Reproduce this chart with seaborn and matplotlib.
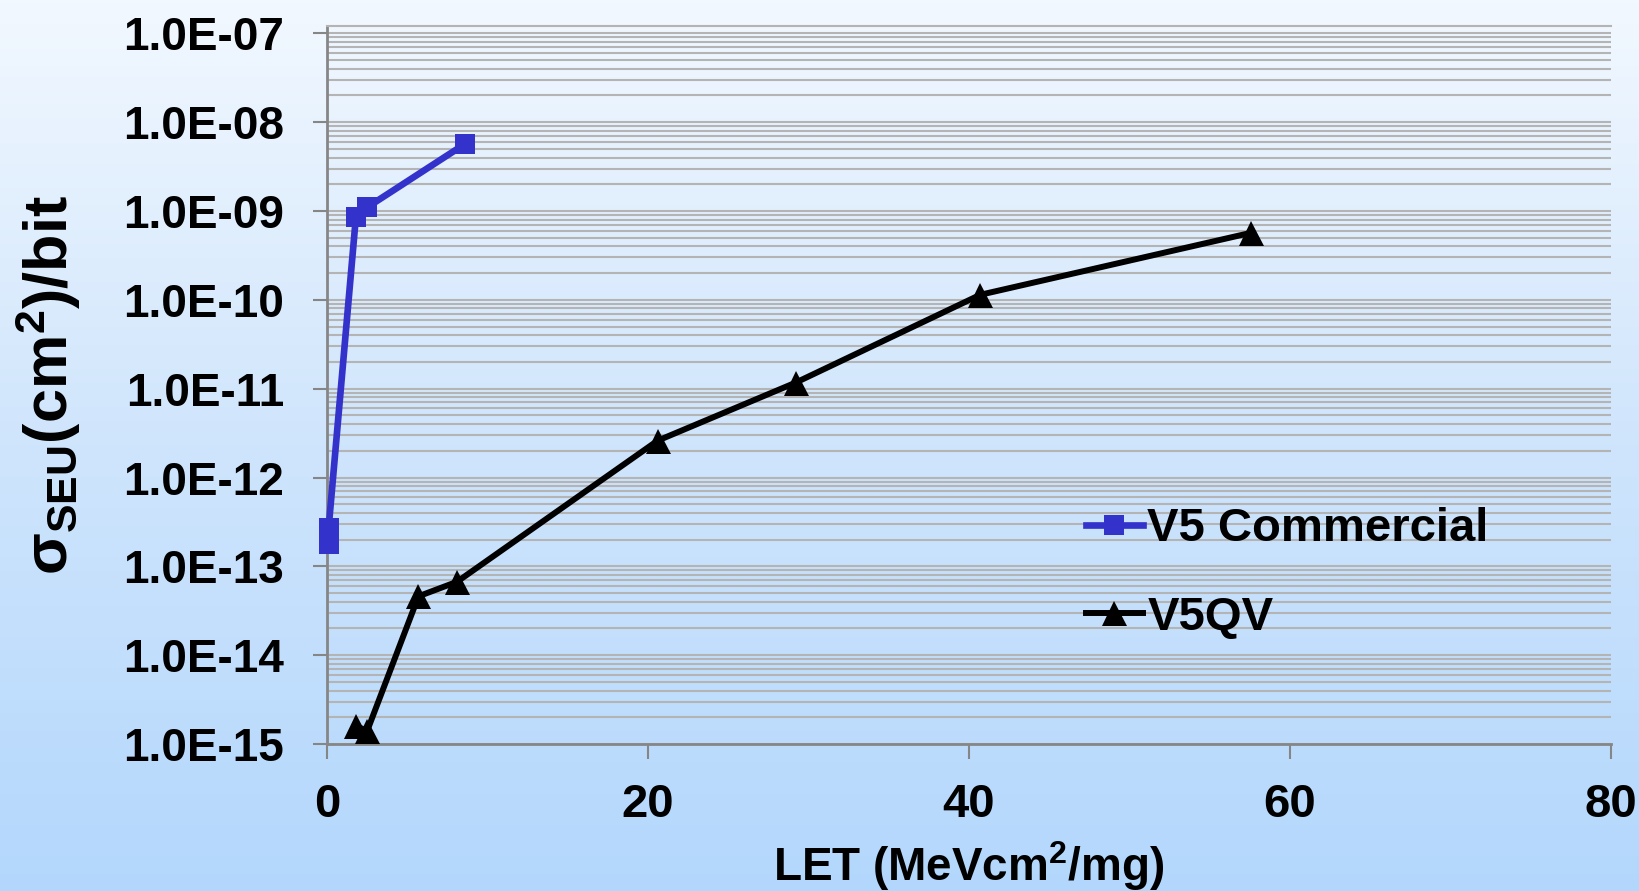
import matplotlib
matplotlib.use('Agg')
import matplotlib.pyplot as plt
import numpy as np
import seaborn as sns
from matplotlib.colors import LinearSegmentedColormap
from matplotlib.ticker import LogLocator, FuncFormatter, NullFormatter, FixedLocator

# data
v5c_let = [0.1, 0.1, 1.8, 2.5, 8.6]
v5c_sigma = [1.8e-13, 2.7e-13, 8.6e-10, 1.1e-9, 5.7e-9]
v5qv_let = [1.8, 2.5, 5.7, 8.1, 20.6, 29.2, 40.7, 57.6]
v5qv_sigma = [1.6e-15, 1.4e-15, 4.6e-14, 6.7e-14, 2.6e-12, 1.17e-11, 1.14e-10, 5.7e-10]
x_ticks = [0, 20, 40, 60, 80]
series_names = ['V5 Commercial', 'V5QV']

plt.rcParams['font.family'] = ['Liberation Sans', 'DejaVu Sans']
plt.rcParams['font.weight'] = 'bold'
plt.rcParams['mathtext.fontset'] = 'custom'
plt.rcParams['mathtext.rm'] = 'Liberation Sans:bold'
plt.rcParams['mathtext.it'] = 'Liberation Sans:bold'
plt.rcParams['mathtext.bf'] = 'Liberation Sans:bold'

fig = plt.figure(figsize=(16.4, 8.91), dpi=100)

# gradient background
bg = fig.add_axes([0, 0, 1, 1], zorder=-10)
grad = np.linspace(0, 1, 256).reshape(-1, 1)
cmap = LinearSegmentedColormap.from_list('bg', ['#f2f8ff', '#cfe5fc', '#b3d7fc'])
bg.imshow(grad, aspect='auto', cmap=cmap, extent=[0, 1, 0, 1], origin='upper')
bg.axis('off')

ax = fig.add_axes([0.1994, 0.165, 0.7829, 0.8058])
ax.set_facecolor('none')

sns.lineplot(x=v5c_let, y=v5c_sigma, ax=ax, color='#3333cc', marker='s', markersize=15,
             markeredgewidth=0, linewidth=4.8, estimator=None, sort=False,
             label=series_names[0], clip_on=False, zorder=5)
sns.lineplot(x=v5qv_let, y=v5qv_sigma, ax=ax, color='black', marker='^', markersize=18,
             markeredgewidth=0, linewidth=4.3, estimator=None, sort=False,
             label=series_names[1], clip_on=False, zorder=5)

ax.set_yscale('log')
ax.set_ylim(1e-15, 1.21e-7)
ax.set_xlim(0, 80)
ax.xaxis.set_major_locator(FixedLocator(x_ticks))
ax.yaxis.set_major_locator(LogLocator(base=10, numticks=20))
ax.yaxis.set_minor_locator(LogLocator(base=10, subs=np.arange(2, 10), numticks=100))
ax.yaxis.set_major_formatter(FuncFormatter(lambda v, p: f'{v:.1E}'))
ax.yaxis.set_minor_formatter(NullFormatter())

ax.grid(which='both', axis='y', color='#b4b4b4', linewidth=1.5)
ax.grid(which='both', axis='x', visible=False)
ax.set_axisbelow(True)

for side in ['left', 'bottom']:
    ax.spines[side].set_color('#868686')
    ax.spines[side].set_linewidth(2)
ax.spines['top'].set_color('#b4b4b4')
ax.spines['top'].set_linewidth(1.5)
ax.spines['right'].set_visible(False)

ax.tick_params(axis='y', which='major', length=10, width=1.5, color='#868686',
               labelsize=33, pad=21)
ax.tick_params(axis='y', which='minor', length=0)
ax.tick_params(axis='x', which='major', length=11, width=1.5, color='#868686',
               labelsize=34, pad=17)
for lab in ax.get_xticklabels() + ax.get_yticklabels():
    lab.set_fontweight('bold')

ax.set_xlabel('LET (MeVcm$^{2}$/mg)', fontsize=33, fontweight='bold', va='top')
ax.xaxis.set_label_coords(0.5, -0.132)
ax.set_ylabel('σ$_{\\mathrm{SEU}}$(cm$^{2}$)/bit', fontsize=44, fontweight='bold')
ax.yaxis.set_label_coords(-0.19, 0.5)

ax.legend(loc='upper left', bbox_to_anchor=(0.591, 0.33), frameon=False,
          prop={'size': 34, 'weight': 'bold'}, handlelength=1.2, handletextpad=0.1,
          labelspacing=0.95, borderpad=0, borderaxespad=0)

fig.savefig('out.png', dpi=100)
